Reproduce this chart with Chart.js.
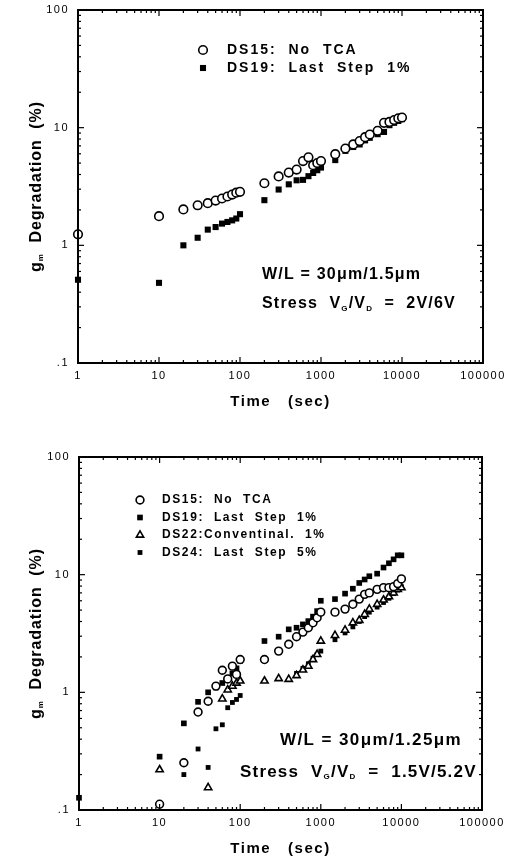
<!DOCTYPE html>
<html><head><meta charset="utf-8">
<script src="https://cdn.jsdelivr.net/npm/chart.js@4"></script>
<style>
html,body{margin:0;padding:0;background:#fff;}
#wrap{position:relative;width:506px;height:860px;overflow:hidden;}
canvas{position:absolute;left:0;}
#c1{top:0}
#c2{top:413px}
</style></head><body>
<div id="wrap"><canvas id="c1" width="506" height="413"></canvas><canvas id="c2" width="506" height="447"></canvas></div>
<script>
// ---------- data ----------
const xTickLabels = ['1','10','100','1000','10000','100000'];
const yTickLabels = ['.1','1','10','100'];

const timeTop = [1,10,20,30,40,50,60,70,80,90,100,200,300,400,500,600,700,800,900,1000,1500,2000,2500,3000,3500,4000,5000,6000,7000,8000,9000,10000];
const ds15Top = [1.24,1.77,2.02,2.19,2.28,2.4,2.5,2.6,2.7,2.8,2.85,3.37,3.85,4.15,4.4,5.2,5.6,4.8,5.0,5.2,5.95,6.65,7.2,7.7,8.3,8.75,9.4,11.0,11.2,11.6,12.0,12.2];
const ds19Top = [0.51,0.48,1.0,1.16,1.36,1.43,1.53,1.58,1.63,1.69,1.84,2.42,2.98,3.3,3.57,3.6,3.87,4.12,4.35,4.58,5.3,6.35,6.85,7.2,7.8,8.2,8.8,9.2,10.5,11.0,11.4,11.8];

const timeBot = [1,10,20,30,40,50,60,70,80,90,100,200,300,400,500,600,700,800,900,1000,1500,2000,2500,3000,3500,4000,5000,6000,7000,8000,9000,10000];
const ds15Bot = [null,0.112,0.252,0.68,0.84,1.13,1.54,1.3,1.67,1.42,1.9,1.9,2.24,2.56,2.97,3.25,3.54,3.9,4.3,4.8,4.8,5.1,5.6,6.2,6.8,7.0,7.5,7.75,7.75,7.9,8.4,9.2];
const ds19Bot = [0.127,0.284,0.545,0.83,1.0,1.1,1.2,1.3,1.45,1.6,1.85,2.73,2.97,3.43,3.54,3.78,4.03,4.4,4.9,6.0,6.2,6.9,7.6,8.5,9.1,9.7,10.2,11.5,12.5,13.5,14.6,14.6];
const ds22Bot = [null,0.22,null,null,0.155,null,0.88,1.05,1.13,1.2,1.25,1.25,1.31,1.29,1.39,1.55,1.67,1.9,2.1,2.73,3.05,3.38,3.9,4.1,4.6,5.1,5.6,6.1,6.5,7.0,7.5,7.75];
const ds24Bot = [null,null,0.2,0.33,0.23,0.49,0.53,0.74,0.82,0.87,0.94,null,null,null,1.45,1.6,1.75,1.95,2.1,2.24,2.8,3.2,3.6,4.0,4.4,4.8,5.3,5.8,6.3,6.9,7.4,7.9];

const labelsTop = ['DS15:  No  TCA','DS19:  Last  Step  1%'];
const labelsBot = ['DS15:  No  TCA','DS19:  Last  Step  1%','DS22:Conventinal.  1%','DS24:  Last  Step  5%'];

// ---------- helpers ----------
const pts = (xs, ys) => xs.map((x,i)=>({x, y: ys[i]})).filter(p => p.y !== null);
const FONT = '"Liberation Sans", Arial, Helvetica, sans-serif';

function richText(ctx, parts, x, y, align, spacing) {
  ctx.save();
  ctx.textBaseline = 'middle';
  ctx.textAlign = 'left';
  try { ctx.letterSpacing = spacing || '0px'; } catch(e) {}
  let total = 0;
  parts.forEach(p => { ctx.font = p.f; p.w = ctx.measureText(p.t).width; total += p.w; });
  let cx = align === 'center' ? x - total/2 : x;
  parts.forEach(p => { ctx.font = p.f; ctx.fillStyle = '#000'; ctx.fillText(p.t, cx, y + (p.dy||0)); cx += p.w; });
  ctx.restore();
}

const decoPlugin = {
  id: 'deco',
  beforeDraw(chart) {
    try { chart.ctx.letterSpacing = '1.5px'; } catch(e) {}
  },
  afterDraw(chart, args, opts) {
    const {ctx, chartArea: a, scales: {x, y}} = chart;
    try { ctx.letterSpacing = '0px'; } catch(e) {}
    ctx.save();
    ctx.strokeStyle = '#000';
    ctx.lineWidth = 1.2;
    const line = (x1,y1,x2,y2) => { ctx.beginPath(); ctx.moveTo(x1,y1); ctx.lineTo(x2,y2); ctx.stroke(); };
    for (let d = 0; d < 5; d++) for (let k = 1; k < 10; k++) {
      const v = Math.pow(10, d) * k; const px = x.getPixelForValue(v);
      const L = k === 1 ? 6 : 3;
      line(px, a.bottom, px, a.bottom - L); line(px, a.top, px, a.top + L);
    }
    for (let d = -1; d < 2; d++) for (let k = 1; k < 10; k++) {
      const v = Math.pow(10, d) * k; const py = y.getPixelForValue(v);
      const L = k === 1 ? 6 : 3;
      line(a.left, py, a.left + L, py); line(a.right, py, a.right - L, py);
    }
    ctx.lineWidth = 2;
    ctx.strokeRect(a.left, a.top, a.right - a.left, a.bottom - a.top);
    ctx.restore();

    // y title
    ctx.save();
    ctx.translate(37, (a.top + a.bottom) / 2);
    ctx.rotate(-Math.PI / 2);
    richText(ctx, [
      {t:'g', f:'bold 16px '+FONT},
      {t:'m', f:'bold 8px '+FONT, dy:4},
      {t:'  Degradation  (%)', f:'bold 16px '+FONT}
    ], 0, 0, 'center', '0.9px');
    ctx.restore();

    // legend
    const lg = opts.legend;
    chart.data.datasets.forEach((ds, i) => {
      const ly = lg.y + i * lg.dy;
      ctx.save();
      ctx.fillStyle = ds.pointBackgroundColor; ctx.strokeStyle = ds.pointBorderColor; ctx.lineWidth = ds.pointBorderWidth;
      Chart.helpers.drawPoint(ctx, {pointStyle: ds.pointStyle, radius: ds.pointRadius, rotation: 0, borderWidth: ds.pointBorderWidth}, lg.mx, ly);
      ctx.restore();
      richText(ctx, [{t: ds.label, f: lg.font}], lg.tx, ly, 'left', lg.spacing);
    });

    // annotations
    opts.notes.forEach(n => richText(ctx, n.parts, n.x, n.y, 'left', n.spacing));
  }
};

function axisCfg(yWidth) {
  return {
    x: {
      type: 'logarithmic', min: 1, max: 100000,
      afterBuildTicks: s => { s.ticks = xTickLabels.map(t => ({value: Number(t)})); },
      ticks: { callback: (v) => xTickLabels[Math.round(Math.log10(v))], color:'#000', font:{family:FONT, size:11}, padding:6, maxRotation:0, autoSkip:false },
      grid: { display:false, drawTicks:false }, border: { display:false },
      title: { display:true, text:'Time   (sec)', color:'#000', font:{family:FONT, size:15, weight:'bold'}, padding:{top:0,bottom:2} },
      afterFit: s => { s.height = 50; s.paddingLeft = 0; s.paddingRight = 0; }
    },
    y: {
      type: 'logarithmic', min: 0.1, max: 100,
      afterBuildTicks: s => { s.ticks = [0.1,1,10,100].map(v => ({value:v})); },
      ticks: { callback: (v) => yTickLabels[Math.round(Math.log10(v)) + 1], color:'#000', font:{family:FONT, size:11}, padding:9, autoSkip:false },
      grid: { display:false, drawTicks:false }, border: { display:false },
      afterFit: s => { s.width = yWidth; s.paddingTop = 0; s.paddingBottom = 0; }
    }
  };
}

const circ = (r) => ({pointStyle:'circle', pointRadius:r, pointBackgroundColor:'#fff', pointBorderColor:'#000', pointBorderWidth:1.6});
const sq = (r) => ({pointStyle:'rect', pointRadius:r, pointBackgroundColor:'#000', pointBorderColor:'#000', pointBorderWidth:0});
const tri = (r) => ({pointStyle:'triangle', pointRadius:r, pointBackgroundColor:'#fff', pointBorderColor:'#000', pointBorderWidth:1.6});

const common = { responsive:false, animation:false, devicePixelRatio:1, events:[] };

new Chart(document.getElementById('c1'), {
  type: 'scatter',
  data: { datasets: [
    Object.assign({label: labelsTop[0], data: pts(timeTop, ds15Top), clip:false}, circ(4.3)),
    Object.assign({label: labelsTop[1], data: pts(timeTop, ds19Top), clip:false}, sq(4.3))
  ]},
  options: Object.assign({}, common, {
    layout: { padding: { left:0, right:23, top:10, bottom:0 } },
    scales: axisCfg(78),
    plugins: {
      legend: {display:false}, tooltip: {enabled:false},
      deco: {
        legend: { mx:203, tx:227, y:50, dy:18, font:'bold 14px '+FONT, spacing:'2px' },
        notes: [
          { x:262, y:275, spacing:'1.2px', parts:[{t:'W/L = 30\u03BCm/1.5\u03BCm', f:'bold 16px '+FONT}] },
          { x:262, y:304, spacing:'1.2px', parts:[
            {t:'Stress  V', f:'bold 16px '+FONT}, {t:'G', f:'bold 8px '+FONT, dy:5},
            {t:'/V', f:'bold 16px '+FONT}, {t:'D', f:'bold 8px '+FONT, dy:5},
            {t:'  =  2V/6V', f:'bold 16px '+FONT}] }
        ]
      }
    }
  }),
  plugins: [decoPlugin]
});

new Chart(document.getElementById('c2'), {
  type: 'scatter',
  data: { datasets: [
    Object.assign({label: labelsBot[0], data: pts(timeBot, ds15Bot), clip:false}, circ(3.9)),
    Object.assign({label: labelsBot[1], data: pts(timeBot, ds19Bot), clip:false}, sq(4)),
    Object.assign({label: labelsBot[2], data: pts(timeBot, ds22Bot), clip:false}, tri(4.2)),
    Object.assign({label: labelsBot[3], data: pts(timeBot, ds24Bot), clip:false}, sq(3.4))
  ]},
  options: Object.assign({}, common, {
    layout: { padding: { left:0, right:24, top:44, bottom:0 } },
    scales: axisCfg(79),
    plugins: {
      legend: {display:false}, tooltip: {enabled:false},
      deco: {
        legend: { mx:140, tx:162, y:87, dy:17.5, font:'bold 12px '+FONT, spacing:'1.6px' },
        notes: [
          { x:280, y:327, spacing:'1.4px', parts:[{t:'W/L = 30\u03BCm/1.25\u03BCm', f:'bold 17px '+FONT}] },
          { x:240, y:359, spacing:'1.2px', parts:[
            {t:'Stress  V', f:'bold 17px '+FONT}, {t:'G', f:'bold 8px '+FONT, dy:5},
            {t:'/V', f:'bold 17px '+FONT}, {t:'D', f:'bold 8px '+FONT, dy:5},
            {t:'  =  1.5V/5.2V', f:'bold 17px '+FONT}] }
        ]
      }
    }
  }),
  plugins: [decoPlugin]
});
</script>
</body></html>
